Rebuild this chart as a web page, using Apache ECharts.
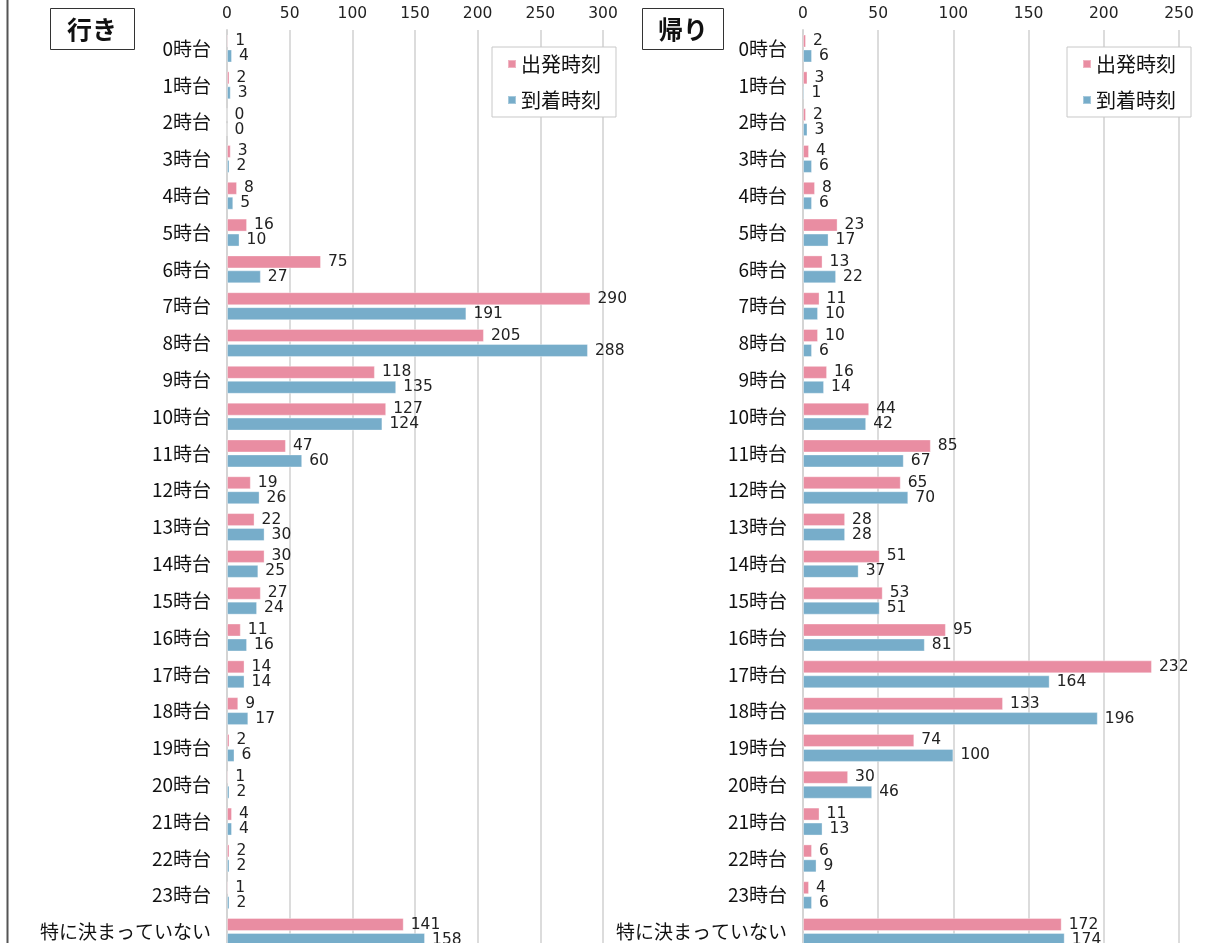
<!DOCTYPE html>
<html>
<head>
<meta charset="utf-8">
<script src="https://cdn.jsdelivr.net/npm/echarts@6/dist/echarts.min.js"></script>
<style>
html,body{margin:0;padding:0;background:#fff;overflow:hidden;width:1213px;height:943px;}
#c{width:1213px;height:960px;}
</style>
</head>
<body>
<div id="c"></div>
<script>
const categories = ['0時台','1時台','2時台','3時台','4時台','5時台','6時台','7時台','8時台','9時台','10時台','11時台','12時台','13時台','14時台','15時台','16時台','17時台','18時台','19時台','20時台','21時台','22時台','23時台','特に決まっていない'];
const seriesNames = ['出発時刻','到着時刻'];
const goDepart = [1,2,0,3,8,16,75,290,205,118,127,47,19,22,30,27,11,14,9,2,1,4,2,1,141];
const goArrive = [4,3,0,2,5,10,27,191,288,135,124,60,26,30,25,24,16,14,17,6,2,4,2,2,158];
const backDepart = [2,3,2,4,8,23,13,11,10,16,44,85,65,28,51,53,95,232,133,74,30,11,6,4,172];
const backArrive = [6,1,3,6,6,17,22,10,6,14,42,67,70,28,37,51,81,164,196,100,46,13,9,6,174];
const panelTitles = ['行き','帰り'];
const goTicks = {min:0,max:300,interval:50};
const backTicks = {min:0,max:250,interval:50};

const FONT = '"Noto Sans CJK JP","Noto Sans",sans-serif';
const NUMFONT = '"DejaVu Sans",sans-serif';
const PINK = '#E98DA2';
const BLUE = '#77ADCA';

const chart = echarts.init(document.getElementById('c'), null, {renderer:'canvas'});

function xAx(idx, t){
  return {
    gridIndex: idx, type:'value', position:'top', min:t.min, max:t.max, interval:t.interval,
    axisLine:{show:false}, axisTick:{show:false},
    axisLabel:{color:'#222', fontSize:15.5, fontFamily:NUMFONT, margin:8},
    splitLine:{show:true, lineStyle:{color:'#dcdcdc', width:2}}
  };
}
function yAx(idx){
  return {
    gridIndex: idx, type:'category', data:categories, inverse:true,
    axisLine:{show:true, lineStyle:{color:'#d4d4d4', width:2}},
    axisTick:{show:false},
    axisLabel:{color:'#111', fontSize:19, fontFamily:FONT, margin:16, interval:0}
  };
}
function bar(name, idx, data, color){
  return {
    name, type:'bar', xAxisIndex:idx, yAxisIndex:idx, data,
    barWidth:13, barGap:'15%',
    itemStyle:{color, borderColor:'rgba(255,255,255,0.35)', borderWidth:1},
    label:{show:true, position:'right', distance:7, color:'#222', fontSize:15.5, fontFamily:NUMFONT},
    emphasis:{disabled:true}
  };
}
function legendAt(idx, left){
  return {
    left, top:47, orient:'vertical', padding:[7,15], itemGap:16,
    itemWidth:8, itemHeight:8, icon:'rect',
    borderColor:'#c8c8c8', borderWidth:1, backgroundColor:'#fff',
    textStyle:{color:'#111', fontSize:20, fontFamily:FONT},
    data: seriesNames.map(n => ({name:n})),
    selectedMode:false
  };
}

chart.setOption({
  animation:false,
  grid:[
    {left:227, top:30.1, width:376, height:920.3, containLabel:false},
    {left:803, top:30.1, width:376, height:920.3, containLabel:false}
  ],
  xAxis:[xAx(0, goTicks), xAx(1, backTicks)],
  yAxis:[yAx(0), yAx(1)],
  legend:[legendAt(0, 492), legendAt(1, 1067)],
  series:[
    bar(seriesNames[0], 0, goDepart, PINK),
    bar(seriesNames[1], 0, goArrive, BLUE),
    bar(seriesNames[0], 1, backDepart, PINK),
    bar(seriesNames[1], 1, backArrive, BLUE)
  ],
  graphic:[
    {type:'line', shape:{x1:7.5,y1:0,x2:7.5,y2:960}, style:{stroke:'#555', lineWidth:2}},
    {type:'rect', shape:{x:50.5,y:8.5,width:84,height:41}, style:{fill:'#fff', stroke:'#333', lineWidth:1}},
    {type:'text', x:92, y:29, style:{text:panelTitles[0], fill:'#111', font:'bold 25px '+FONT, align:'center', verticalAlign:'middle'}},
    {type:'rect', shape:{x:642.5,y:8.5,width:81,height:41}, style:{fill:'#fff', stroke:'#333', lineWidth:1}},
    {type:'text', x:683, y:29, style:{text:panelTitles[1], fill:'#111', font:'bold 25px '+FONT, align:'center', verticalAlign:'middle'}}
  ]
});
</script>
</body>
</html>
